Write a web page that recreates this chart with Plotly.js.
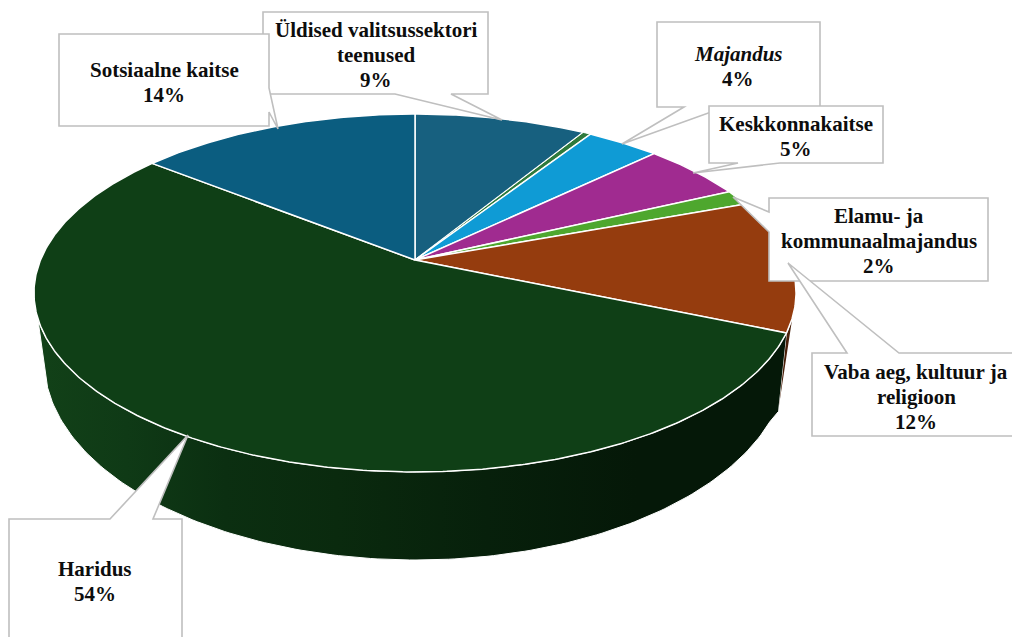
<!DOCTYPE html>
<html><head><meta charset="utf-8">
<script src="https://cdn.plot.ly/plotly-3.0.1.min.js"></script>
<style>html,body{margin:0;padding:0;background:#fff}#c{width:1012px;height:637px}</style>
</head><body><div id="c"></div>
<script>
// ---- data: clockwise from 12 o'clock ----
const categories = [["Üldised valitsussektori", "teenused"], [], ["<i>Majandus</i>"], ["Keskkonnakaitse"], ["Elamu- ja", "kommunaalmajandus"], ["Vaba aeg, kultuur ja", "religioon"], ["Haridus"], ["Sotsiaalne kaitse"]];
const labelPercents = [9, null, 4, 5, 2, 12, 54, 14];
const sliceShares = [8.7, 0.4, 3.7, 5.2, 1.4, 12.0, 54.3, 14.3];
const sliceColors = ["#17607f", "#2f7a3c", "#0f9bd5", "#a02b90", "#4ea72e", "#953c0e", "#0f3f16", "#0b5d80"];

// ---- projection of the tilted pie ----
const pie = {cx: 415, cy: 260, a: 374.5, b: 172.9, k: 0.1843};
function rim(deg) {
  const t = deg * Math.PI / 180, u = Math.sin(t), v = -Math.cos(t), w = 1 - pie.k * v;
  return [pie.cx + pie.a * u / w, pie.cy + pie.b * v / w];
}
function arc(d0, d1) { const p = []; const n = Math.max(2, Math.ceil(Math.abs(d1 - d0) * 2)); for (let i = 0; i <= n; i++) p.push(rim(d0 + (d1 - d0) * i / n)); return p; }
const floor = {cx: 416, cy: 360, rx: 372, ry: 200};
function floorArc(t0, t1) { const p = []; for (let t = t0; t <= t1; t += 1) { const r = t * Math.PI / 180; p.push([floor.cx + floor.rx * Math.cos(r), floor.cy + floor.ry * Math.sin(r)]); } return p; }

function poly(pts, extra) {
  return Object.assign({type: "scatter", mode: "lines", x: pts.map(p => p[0]), y: pts.map(p => p[1]), fill: "toself", hoverinfo: "skip"}, extra);
}

// cumulative angles
const total = sliceShares.reduce((s, v) => s + v, 0);
const edges = [0];
sliceShares.forEach(v => edges.push(edges[edges.length - 1] + v / total * 360));

const traces = [];
// side walls
const vabaEnd = edges[6];
const rightTan = 108.4, leftTan = 251.6;
traces.push(poly(arc(rightTan, vabaEnd).concat([[778, 412]]), {fillcolor: "#4a200a", line: {color: "#ffffff", width: 1}}));
const sidePts = arc(vabaEnd, leftTan).concat(floorArc(18, 172).reverse()).concat([[778, 412]]);
traces.push(poly(sidePts, {
  fillcolor: "#0b2e10",
  fillgradient: {type: "horizontal", colorscale: [[0, "#124118"], [0.12, "#0f3a16"], [0.25, "#0b2f11"], [0.4, "#0a2a0e"], [0.6, "#07200b"], [0.8, "#051808"], [1, "#051808"]]},
  line: {color: "#ffffff", width: 1}
}));
// top face wedges
sliceShares.forEach((v, i) => {
  const pts = [[pie.cx, pie.cy]].concat(arc(edges[i], edges[i + 1])).concat([[pie.cx, pie.cy]]);
  traces.push(poly(pts, {fillcolor: sliceColors[i], line: {color: "#ffffff", width: i === 1 ? 1 : 1.5}}));
});

// ---- callouts, back to front ----
const callouts = [
  {i: 0, box: [263, 12, 488, 94], ptr: [[451, 94], [502, 120], [395, 94]], side: "b", tx: 376, ty: 55},
  {i: 7, box: [59, 34, 269, 126], ptr: [[269, 88], [278, 129], [269, 112]], side: "r", tx: 164, ty: 82},
  {i: 2, box: [657, 22, 820, 107], ptr: [[725, 107], [622, 144], [684, 107]], side: "b", tx: 738, ty: 66},
  {i: 3, box: [709, 106, 883, 163], ptr: [[780, 163], [693, 173], [738, 163]], side: "b", tx: 796, ty: 136},
  {i: 4, box: [769, 198, 988, 281], ptr: [[769, 212], [733, 197], [769, 232]], side: "l", tx: 879, ty: 241},
  {i: 5, box: [812, 353, 1030, 436], ptr: [[847, 353], [788, 263], [899, 353]], side: "t", tx: 916, ty: 397},
  {i: 6, box: [9, 519, 182, 660], ptr: [[110, 519], [188, 435], [153, 519]], side: "t", tx: 95, ty: 581}
];
function calloutPath(c) {
  const [x0, y0, x1, y1] = c.box, P = c.ptr, s = p => `L${p[0]},${p[1]}`;
  let d = `M${x0},${y0}`;
  if (c.side === "t") d += P.map(s).join("");
  d += `L${x1},${y0}`;
  if (c.side === "r") d += P.map(s).join("");
  d += `L${x1},${y1}`;
  if (c.side === "b") d += P.map(s).join("");
  d += `L${x0},${y1}`;
  if (c.side === "l") d += [P[2], P[1], P[0]].map(s).join("");
  return d + "Z";
}
const shapes = callouts.map(c => ({type: "path", xref: "x", yref: "y", path: calloutPath(c), fillcolor: "#ffffff", line: {color: "#bfbfbf", width: 1.6}, layer: "above"}));
const lineGap = 25;
const annotations = [];
callouts.forEach(c => {
  const lines = categories[c.i].concat([labelPercents[c.i] + "%"]);
  lines.forEach((text, n) => annotations.push({
    xref: "x", yref: "y", x: c.tx, y: c.ty + (n - (lines.length - 1) / 2) * lineGap, xanchor: "center", yanchor: "middle", showarrow: false, align: "center",
    text, font: {family: "'Liberation Serif','Times New Roman',serif", size: 21, color: "#0d0d0d", weight: 700}
  }));
});

Plotly.newPlot("c", traces, {
  width: 1012, height: 637, margin: {l: 0, r: 0, t: 0, b: 0}, showlegend: false,
  paper_bgcolor: "#ffffff", plot_bgcolor: "#ffffff",
  xaxis: {range: [0, 1012], visible: false, fixedrange: true},
  yaxis: {range: [637, 0], visible: false, fixedrange: true},
  shapes, annotations
}, {displayModeBar: false, staticPlot: true});
</script></body></html>
